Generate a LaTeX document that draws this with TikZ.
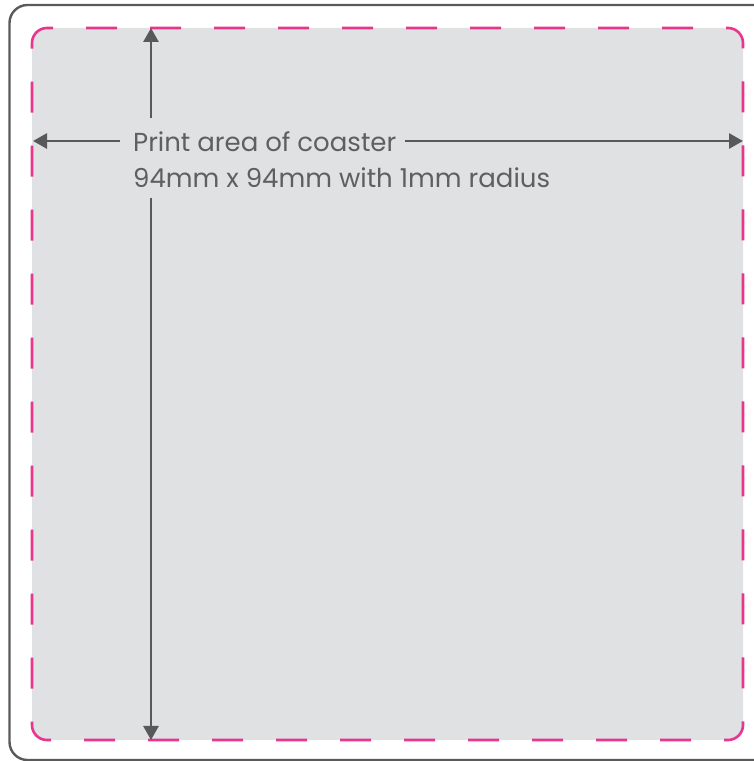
\documentclass[tikz,border=0pt]{standalone}
\usepackage{fontspec}
\setmainfont{Poppins}
\usetikzlibrary{arrows.meta}
\definecolor{pinkline}{HTML}{E8358F}
\definecolor{greyfill}{HTML}{E0E1E3}
\definecolor{darkline}{HTML}{58595B}
\definecolor{frameline}{HTML}{5A5A5A}
\definecolor{textgrey}{HTML}{5E5F61}
\tikzset{
  dimarrow/.style={draw=darkline, line width=2.8pt, -{Triangle[length=14pt,width=15pt]}},
  labeltext/.style={text=textgrey, inner sep=0pt, anchor=base west, font=\fontsize{26}{32}\selectfont},
  printedge/.style={draw=pinkline, line width=2.6pt, dash pattern=on 31pt off 33pt, dash phase=25pt},
  frame/.style={draw=frameline, line width=2.4pt, rounded corners=18pt}
}
\begin{document}
\begin{tikzpicture}[x=1pt,y=1pt]
\useasboundingbox (0,0) rectangle (754,761);
% outer frame
\draw[frame] (9.5,1) rectangle (790,756);
% grey print area
\fill[greyfill, rounded corners=15pt] (32,21) rectangle (743,733);
% pink dashed edge
\draw[printedge] (47,733) -- (728,733) arc[start angle=90, end angle=0, radius=15]
  -- (743,36) arc[start angle=0, end angle=-90, radius=15]
  -- (47,21) arc[start angle=270, end angle=180, radius=15]
  -- (32,718) arc[start angle=180, end angle=90, radius=15];
% labels
\node[labeltext] (lbl1) at (133,609) {Print area of coaster};
\node[labeltext] (lbl2) at (133,573) {94mm x 94mm with 1mm radius};
% arrow end points
\coordinate (vtopA) at (151,643);
\coordinate (vtopB) at (151,733);
\coordinate (vbotA) at (151,563);
\coordinate (vbotB) at (151,21);
\coordinate (hleftA) at (120,620);
\coordinate (hleftB) at (33,620);
\coordinate (hrightA) at (405,620);
\coordinate (hrightB) at (743,620);
\draw[dimarrow] (vtopA) -- (vtopB);
\draw[dimarrow] (vbotA) -- (vbotB);
\draw[dimarrow] (hleftA) -- (hleftB);
\draw[dimarrow] (hrightA) -- (hrightB);
\end{tikzpicture}
\end{document}
